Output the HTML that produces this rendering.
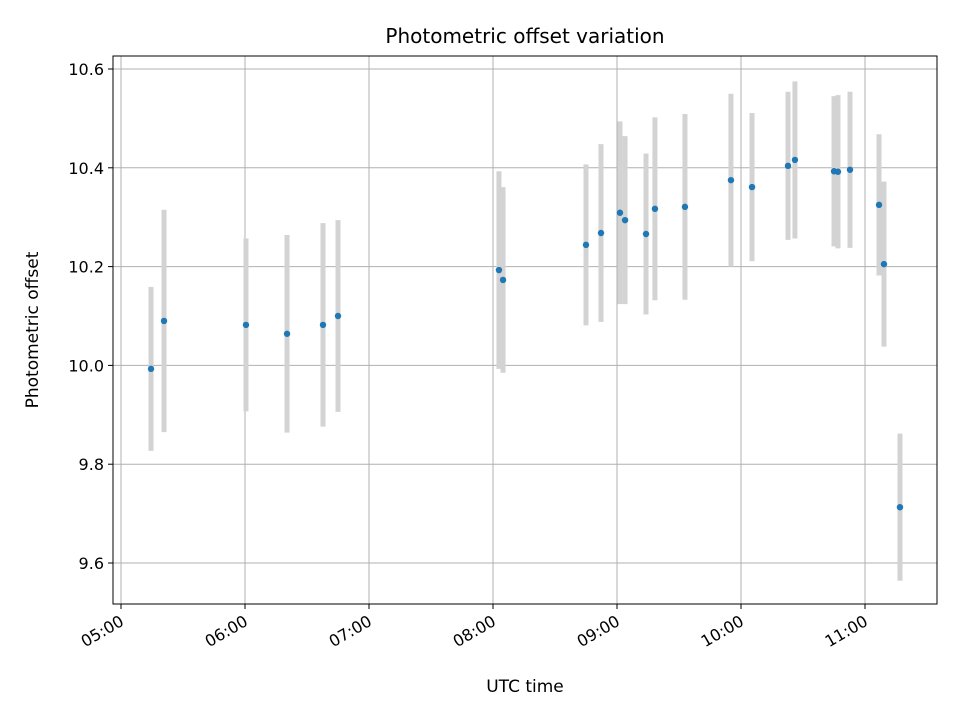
<!DOCTYPE html>
<html><head><meta charset="utf-8"><style>
html,body{margin:0;padding:0;background:#fff;}
svg{display:block;font-family:"DejaVu Sans","Liberation Sans",sans-serif;}
</style></head><body>
<svg id="chart" width="960" height="720" viewBox="0 0 960 720">
<rect width="960" height="720" fill="#fff"/>
<g id="grid"></g>
<g id="series"></g>
<rect x="113" y="56" width="824" height="548" fill="none" stroke="#000" stroke-width="1"/>
<g id="axes"></g>
<text x="525" y="43" text-anchor="middle" font-size="20">Photometric offset variation</text>
<text x="525" y="692" text-anchor="middle" font-size="17">UTC time</text>
<text transform="translate(38,330) rotate(-90)" text-anchor="middle" font-size="17">Photometric offset</text>
</svg>
<script>
// hours after 05:00 UTC
const times = [0.242,0.347,1.008,1.339,1.629,1.75,3.048,3.081,3.75,3.871,4.024,4.065,4.234,4.306,4.548,4.919,5.089,5.379,5.435,5.75,5.782,5.879,6.113,6.153,6.282];
const values = [9.993,10.090,10.082,10.064,10.082,10.100,10.193,10.173,10.244,10.268,10.309,10.294,10.266,10.317,10.321,10.375,10.361,10.404,10.416,10.393,10.392,10.396,10.325,10.205,9.713];
const errors = [0.166,0.225,0.175,0.2,0.206,0.194,0.2,0.188,0.163,0.18,0.185,0.17,0.163,0.185,0.188,0.175,0.15,0.15,0.159,0.152,0.155,0.158,0.143,0.167,0.149];
const yTicks = [9.6,9.8,10.0,10.2,10.4,10.6];
const xTickLabels = ["05:00","06:00","07:00","08:00","09:00","10:00","11:00"];

const NS="http://www.w3.org/2000/svg";
const X=h=>121+h*124;
const Y=v=>563-(v-9.6)*494;
function mk(tag,attrs,parent){const e=document.createElementNS(NS,tag);for(const k in attrs)e.setAttribute(k,attrs[k]);parent.appendChild(e);return e;}
const grid=document.getElementById('grid'),axes=document.getElementById('axes'),series=document.getElementById('series');

yTicks.forEach(v=>{
  const y=Y(v);
  const g=mk('line',{x1:113,x2:937,y1:y,y2:y,stroke:'#b0b0b0','stroke-width':1},grid);
  
  
  const t=mk('line',{x1:108,x2:113,y1:y,y2:y,stroke:'#000'},axes);
  
  
  const l=mk('text',{x:104,y:y+6,'text-anchor':'end','font-size':16},axes);
  l.textContent=v.toFixed(1);
  
  
});
xTickLabels.forEach((s,i)=>{
  const x=X(i);
  const g=mk('line',{x1:x,x2:x,y1:56,y2:604,stroke:'#b0b0b0','stroke-width':1},grid);
  
  
  const t=mk('line',{x1:x,x2:x,y1:604,y2:609,stroke:'#000'},axes);
  
  
  const ax=x-2, ay=614;
  const l=mk('text',{x:ax,y:ay,'text-anchor':'end','dominant-baseline':'hanging','font-size':16,transform:`rotate(-30 ${ax} ${ay})`},axes);
  l.textContent=s;
  
  
});
times.forEach((t,i)=>{
  const x=X(t),v=values[i],e=errors[i];
  const b=mk('line',{x1:x,x2:x,y1:Y(v+e),y2:Y(v-e),stroke:'#d3d3d3','stroke-width':5},series);
  
  
});
times.forEach((t,i)=>{
  const p=mk('circle',{cx:X(t),cy:Y(values[i]),r:3.2,fill:'#1f77b4'},series);
  
  
});
</script>
</body></html>
